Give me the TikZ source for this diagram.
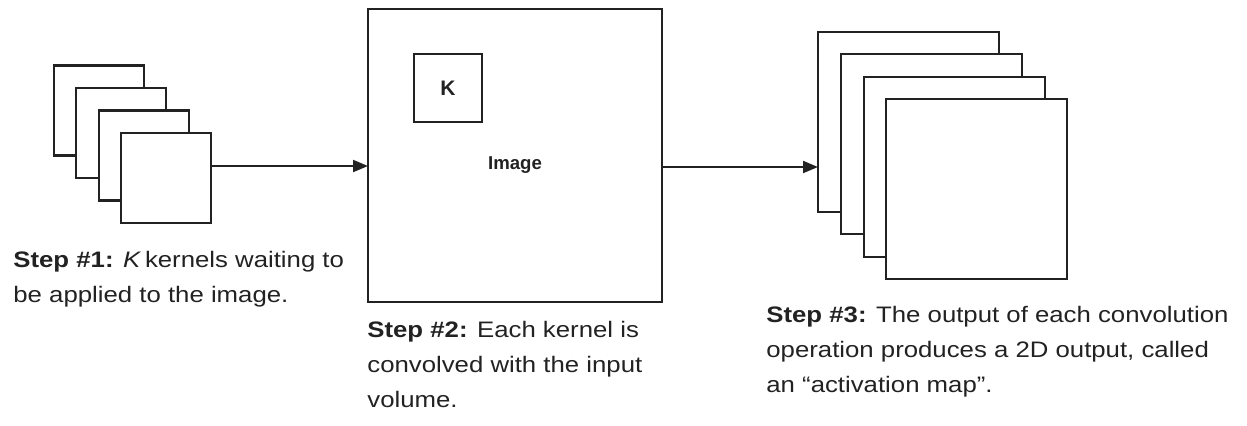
\documentclass[tikz,border=0pt]{standalone}
\usepackage{fontspec}
\setmainfont{Liberation Sans}
\newfontfamily\capfont[FakeStretch=1.15]{Liberation Sans}
\usetikzlibrary{arrows.meta}
\definecolor{ink}{HTML}{222222}
\newcommand{\captext}[1]{\parbox[t]{300pt}{\raggedright #1}}
\tikzset{
  sheet/.style={draw=ink, line width=1.35pt, fill=white, inner sep=0pt, outer sep=0pt},
  kernelsheet/.style={sheet, minimum width=45pt, minimum height=45pt},
  mapsheet/.style={sheet, minimum width=90.5pt, minimum height=90pt},
  flow/.style={draw=ink, line width=1pt, -{Triangle[length=7.5pt,width=6pt]}},
  caption/.style={text=ink, inner sep=0pt, anchor=base west,
    font=\capfont\fontsize{11.2}{17.5}\selectfont},
}
\begin{document}
\begin{tikzpicture}[x=0.5pt, y=-0.5pt]
\useasboundingbox (0,0) rectangle (1247,425);

% stack of K kernels
\node[kernelsheet] (k1) at (99,110.5) {};
\node[kernelsheet] (k2) at (121,133) {};
\node[kernelsheet] (k3) at (144,155.5) {};
\node[kernelsheet] (k4) at (166,178) {};

% input image with a kernel placed on it
\node[sheet, minimum width=147pt, minimum height=146.5pt] (img) at (515,155.5) {};
\node[draw=ink, line width=1pt, minimum size=34pt, inner sep=0pt,
      font=\fontsize{10.5}{12}\bfseries\selectfont, text=ink] (kern) at (448,88) {K};
\node[text=ink, font=\fontsize{9.3}{11}\bfseries\selectfont] (imglabel) at (515,165) {Image};

% activation maps
\node[mapsheet] (m1) at (908.5,122) {};
\node[mapsheet] (m2) at (931.5,144) {};
\node[mapsheet] (m3) at (954.5,167) {};
\node[mapsheet] (m4) at (976.5,189) {};

% connectors
\coordinate (lvl1) at (0,166);
\coordinate (lvl2) at (0,167);
\draw[flow] (k4.east |- lvl1) -- (img.west |- lvl1);
\draw[flow] (img.east |- lvl2) -- (m1.west |- lvl2);

% captions
\node[caption] (cap1) at (13,267)
  {\captext{\textbf{Step \#1:} \textit{K}\,kernels waiting to\\be applied to the image.}};
\node[caption] (cap2) at (367,337)
  {\captext{\textbf{Step \#2:} Each kernel is\\convolved with the input\\volume.}};
\node[caption] (cap3) at (766,322)
  {\captext{\textbf{Step \#3:} The output of each convolution\\operation produces a 2D output, called\\an “activation map”.}};
\end{tikzpicture}
\end{document}
